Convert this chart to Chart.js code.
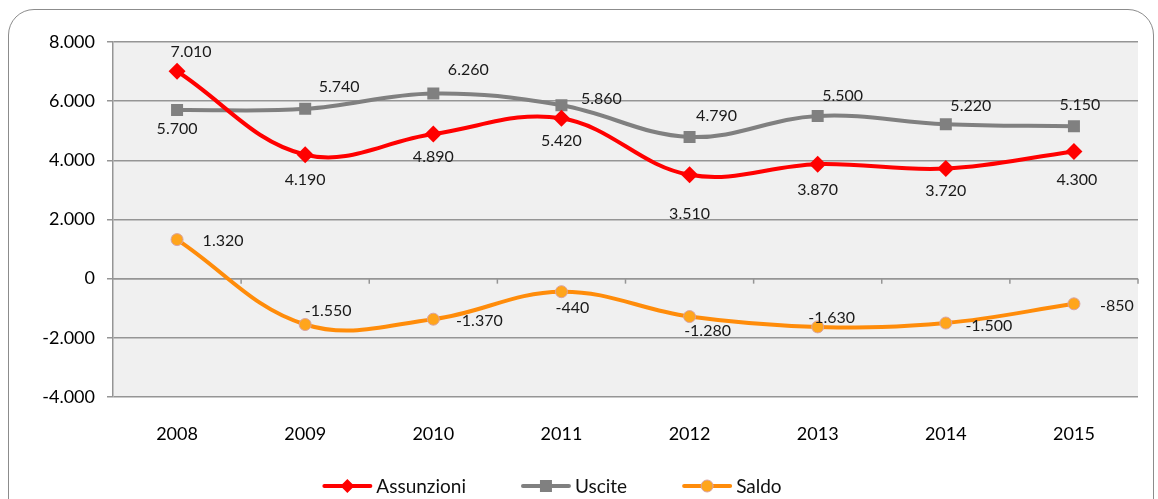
<!DOCTYPE html>
<html><head><meta charset="utf-8">
<script src="https://cdn.jsdelivr.net/npm/chart.js@4"></script>
<style>
html,body{margin:0;padding:0;background:#fff;overflow:hidden;width:1158px;height:499px;}
#frame{position:absolute;left:8px;top:9px;width:1146px;height:530px;border:1px solid #8c8c8c;border-radius:26px;box-sizing:border-box;}
#wrap{position:absolute;left:0;top:0;width:1158px;height:499px;}
</style></head>
<body>
<div id="frame"></div>
<div id="wrap"><canvas id="c" width="1158" height="499"></canvas></div>
<script>
const years = ['2008','2009','2010','2011','2012','2013','2014','2015'];
const assunzioni = [7010, 4190, 4890, 5420, 3510, 3870, 3720, 4300];
const uscite = [5700, 5740, 6260, 5860, 4790, 5500, 5220, 5150];
const saldo = [1320, -1550, -1370, -440, -1280, -1630, -1500, -850];
const yTicks = [-4000, -2000, 0, 2000, 4000, 6000, 8000];

// label placement offsets (dx, dy) relative to each point
const offA = [[14,-19],[0,25],[0,23],[0,23],[0,39],[0,26],[0,22],[3,28]];
const offU = [[0,19],[34,-22],[35,-24],[40,-6],[27,-21],[25,-20],[25,-18],[6,-21]];
const offS = [[46,1],[23,-14],[46,2],[11,16],[18,14],[14,-9],[43,3],[43,2]];

function fmt(v){
  const neg = v < 0; let s = String(Math.abs(v));
  s = s.replace(/\B(?=(\d{3})+(?!\d))/g, '.');
  return (neg ? '-' : '') + s;
}

const FONT = 'Lato, "DejaVu Sans", sans-serif';

const bgPlugin = {
  id: 'bg',
  beforeDraw(chart){
    const {ctx, chartArea:a} = chart;
    ctx.save(); ctx.fillStyle = '#f0f0f0';
    ctx.fillRect(a.left, a.top, a.right - a.left, a.bottom - a.top);
    ctx.restore();
  },
  beforeDatasetsDraw(chart){
    const {ctx, chartArea:a, scales} = chart;
    const y0 = scales.y.getPixelForValue(0);
    const n = years.length;
    const w = (a.right - a.left) / n;
    ctx.save(); ctx.strokeStyle = '#959595'; ctx.lineWidth = 1.5;
    ctx.beginPath(); ctx.moveTo(a.left, y0); ctx.lineTo(a.right, y0); ctx.stroke();
    for (let i = 1; i <= n; i++){
      const x = a.left + w * i;
      ctx.beginPath(); ctx.moveTo(x, y0); ctx.lineTo(x, y0 + 5); ctx.stroke();
    }
    ctx.restore();
  },
  afterDatasetsDraw(chart){
    const {ctx} = chart;
    const offs = [offA, offU, offS];
    ctx.save();
    ctx.font = '16px ' + FONT; ctx.fillStyle = '#1a1a1a';
    ctx.textAlign = 'center'; ctx.textBaseline = 'middle';
    chart.data.datasets.forEach((ds, di) => {
      const meta = chart.getDatasetMeta(di);
      meta.data.forEach((pt, i) => {
        const o = offs[di][i];
        ctx.fillText(fmt(ds.data[i]), pt.x + o[0], pt.y + o[1]);
      });
    });
    ctx.restore();
  },
  afterDraw(chart){
    const {ctx} = chart;
    ctx.save();
    ctx.font = '19px ' + FONT; ctx.textBaseline = 'middle'; ctx.textAlign = 'left';
    const lineW = 50, gapT = 4, gapI = 55;
    const items = chart.data.datasets.map(ds => ({ds, tw: ctx.measureText(ds.label).width}));
    const total = items.reduce((s, it) => s + lineW + gapT + it.tw, 0) + gapI * (items.length - 1);
    const cx = 552, y = 486;
    let x = cx - total / 2;
    items.forEach(it => {
      const ds = it.ds;
      ctx.strokeStyle = ds.borderColor; ctx.lineWidth = 4; ctx.lineCap = 'round';
      ctx.beginPath(); ctx.moveTo(x + 2, y); ctx.lineTo(x + lineW - 2, y); ctx.stroke();
      const mx = x + lineW / 2;
      ctx.fillStyle = ds.pointBackgroundColor;
      ctx.strokeStyle = ds.pointBorderColor; ctx.lineWidth = 1;
      ctx.beginPath();
      if (ds.pointStyle === 'rectRot'){
        const r = 7; ctx.moveTo(mx - r, y); ctx.lineTo(mx, y - r); ctx.lineTo(mx + r, y); ctx.lineTo(mx, y + r); ctx.closePath(); ctx.fill();
      } else if (ds.pointStyle === 'rect'){
        ctx.rect(mx - 6, y - 6, 12, 12); ctx.fill();
      } else {
        ctx.arc(mx, y, 6, 0, Math.PI * 2); ctx.fill(); ctx.stroke();
      }
      ctx.fillStyle = '#111';
      ctx.fillText(ds.label, x + lineW + gapT, y + 1);
      x += lineW + gapT + it.tw + gapI;
    });
    ctx.restore();
  }
};

new Chart(document.getElementById('c'), {
  type: 'line',
  data: {
    labels: years,
    datasets: [
      {label:'Assunzioni', data: assunzioni, borderColor:'#ff0000', backgroundColor:'#ff0000',
       pointStyle:'rectRot', pointRadius:8.5, pointBackgroundColor:'#ff0000', pointBorderColor:'#ff0000', pointBorderWidth:0,
       borderWidth:4, tension:0.38, fill:false},
      {label:'Uscite', data: uscite, borderColor:'#808080', backgroundColor:'#808080',
       pointStyle:'rect', pointRadius:8.5, pointBackgroundColor:'#808080', pointBorderColor:'#808080', pointBorderWidth:0,
       borderWidth:4, tension:0.38, fill:false},
      {label:'Saldo', data: saldo, borderColor:'#ff8c0a', backgroundColor:'#ffa51c',
       pointStyle:'circle', pointRadius:6, pointBackgroundColor:'#ffa51c', pointBorderColor:'#d9a3a3', pointBorderWidth:1,
       borderWidth:4, tension:0.38, fill:false}
    ]
  },
  options: {
    responsive:false, animation:false, devicePixelRatio:1,
    layout:{padding:{top:42, right:20, bottom:0, left:0}},
    plugins:{legend:{display:false}, tooltip:{enabled:false}},
    scales:{
      x:{
        offset:true,
        grid:{display:false},
        border:{display:false},
        ticks:{color:'#000', font:{family:FONT, size:18}, padding:18},
        afterFit(s){ s.height = 102; }
      },
      y:{
        min:-4000, max:8000,
        afterBuildTicks(s){ s.ticks = yTicks.map(v => ({value:v})); },
        afterFit(s){ s.width = 113; },
        grid:{color:'#959595', lineWidth:1.5, tickLength:6, tickColor:'#959595'},
        border:{display:true, color:'#959595', width:1.5},
        ticks:{color:'#000', font:{family:FONT, size:18}, padding:12, callback:(v)=>fmt(v)}
      }
    }
  },
  plugins:[bgPlugin]
});
</script>
</body></html>
